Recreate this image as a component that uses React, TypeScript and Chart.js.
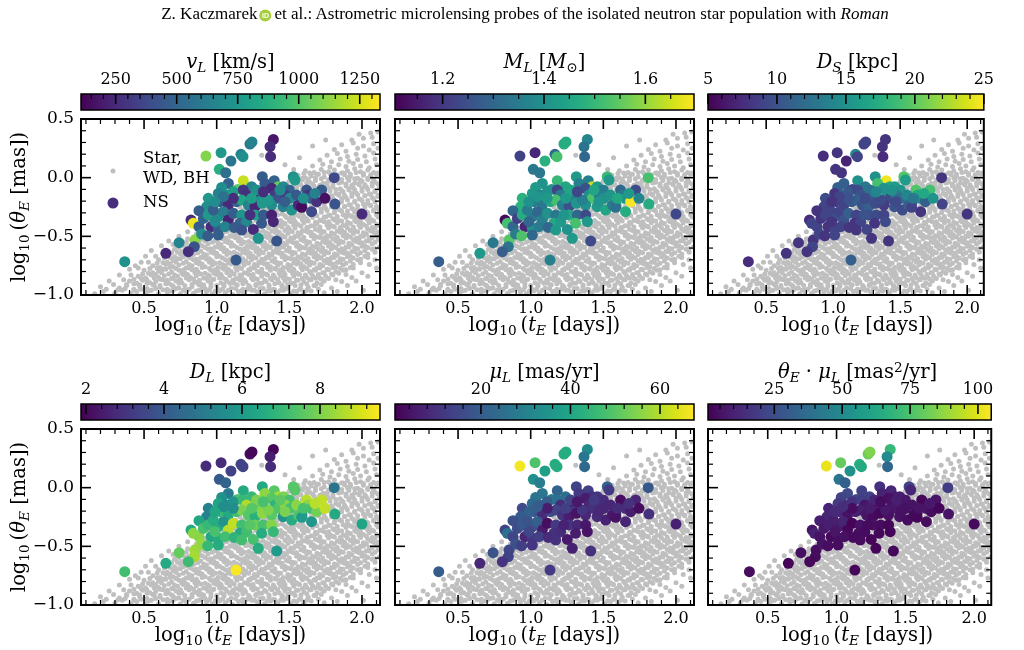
import React, { useEffect, useRef } from "react";
import { Chart, registerables } from "chart.js";

Chart.register(...registerables);

// ---- Isolated neutron-star lenses ----
// log10(tE [days])
const nsLogTE = [
  1.390, 1.367, 1.371, 1.229, 1.243, 1.167, 1.181, 1.030, 0.926, 1.098,
  1.018, 1.062, 1.183, 1.080, 1.314, 1.396, 1.424, 1.527, 1.539, 1.809,
  1.034, 1.144, 1.240, 1.332, 1.378, 1.458, 1.500, 1.619, 1.630, 1.722,
  0.942, 1.011, 1.068, 1.114, 1.183, 1.206, 1.282, 1.309, 1.401, 1.424,
  1.470, 1.504, 1.585, 1.653, 1.688, 1.745, 1.814, 0.931, 0.878, 1.023,
  1.080, 1.137, 1.172, 1.218, 1.264, 1.314, 1.378, 1.458, 1.516, 1.562,
  1.585, 1.653, 0.823, 0.839, 0.878, 0.908, 0.942, 1.011, 1.046, 1.080,
  1.114, 1.172, 1.160, 1.206, 1.264, 1.321, 1.309, 1.378, 1.390, 0.961,
  1.011, 1.057, 1.121, 1.172, 1.252, 0.851, 0.896, 0.938, 1.011, 1.286,
  1.413, 0.741, 0.846, 0.805, 1.133, 0.650, 0.367, 2.000, 0.977, 0.988,
  1.229, 1.355, 1.436, 1.550, 1.596, 1.676, 1.114, 1.275, 1.046, 1.321,
  0.988, 1.240, 1.470,
];
// log10(thetaE [mas])
const nsLogThetaE = [
  0.326, 0.264, 0.179, 0.287, 0.304, 0.199, 0.179, 0.213, 0.184, 0.142,
  0.071, 0.042, -0.026, -0.049, 0.008, -0.026, -0.077, 0.008, -0.020, 0.000,
  -0.083, -0.100, -0.077, -0.049, -0.091, -0.077, -0.105, -0.105, -0.148, -0.105,
  -0.176, -0.134, -0.148, -0.120, -0.105, -0.148, -0.157, -0.191, -0.148, -0.176,
  -0.148, -0.176, -0.219, -0.176, -0.205, -0.176, -0.225, -0.247, -0.281, -0.205,
  -0.233, -0.205, -0.191, -0.233, -0.247, -0.219, -0.233, -0.247, -0.276, -0.233,
  -0.253, -0.290, -0.361, -0.389, -0.418, -0.347, -0.318, -0.333, -0.290, -0.361,
  -0.304, -0.318, -0.389, -0.375, -0.318, -0.318, -0.389, -0.318, -0.375, -0.418,
  -0.432, -0.418, -0.424, -0.446, -0.441, -0.532, -0.480, -0.497, -0.489, -0.517,
  -0.540, -0.554, -0.588, -0.631, -0.702, -0.645, -0.716, -0.310, -0.276, -0.375,
  -0.318, -0.191, -0.105, -0.148, -0.176, -0.134, -0.176, -0.105, -0.162, -0.120,
  -0.205, -0.176, -0.205,
];
// lens velocity v_L [km/s]
const nsVL = [
  180, 260, 260, 600, 650, 640, 700, 760, 1100, 580,
  880, 560, 1230, 480, 470, 480, 1050, 720, 760, 380,
  700, 1020, 660, 450, 240, 680, 480, 430, 300, 450,
  760, 640, 700, 780, 300, 270, 150, 720, 320, 420,
  330, 690, 780, 470, 280, 160, 430, 700, 470, 430,
  250, 480, 820, 650, 240, 760, 700, 640, 730, 250,
  140, 380, 260, 1300, 460, 480, 760, 690, 620, 230,
  470, 740, 480, 680, 800, 460, 450, 220, 240, 260,
  470, 650, 460, 420, 250, 1120, 700, 460, 470, 740,
  430, 660, 420, 270, 450, 250, 720, 250, 470, 680,
  270, 760, 680, 450, 700, 640, 260, 720, 560, 260,
  700, 780, 470,
];
// lens mass M_L [Msun]
const nsML = [
  1.37, 1.33, 1.30, 1.47, 1.47, 1.30, 1.52, 1.17, 1.22, 1.48,
  1.34, 1.34, 1.50, 1.40, 1.42, 1.36, 1.64, 1.50, 1.42, 1.52,
  1.42, 1.41, 1.45, 1.36, 1.25, 1.42, 1.35, 1.30, 1.34, 1.24,
  1.48, 1.42, 1.36, 1.40, 1.23, 1.35, 1.42, 1.36, 1.40, 1.53,
  1.35, 1.40, 1.45, 1.41, 1.69, 1.37, 1.47, 1.48, 1.30, 1.35,
  1.34, 1.46, 1.52, 1.36, 1.25, 1.41, 1.40, 1.42, 1.45, 1.35,
  1.32, 1.47, 1.12, 1.52, 1.30, 1.22, 1.47, 1.35, 1.30, 1.36,
  1.40, 1.34, 1.46, 1.42, 1.46, 1.30, 1.52, 1.24, 1.42, 1.17,
  1.40, 1.35, 1.30, 1.42, 1.40, 1.54, 1.35, 1.53, 1.30, 1.42,
  1.24, 1.34, 1.33, 1.28, 1.36, 1.42, 1.28, 1.23, 1.35, 1.30,
  1.41, 1.36, 1.45, 1.41, 1.46, 1.42, 1.42, 1.45, 1.41, 1.23,
  1.40, 1.42, 1.41,
];
// source distance D_S [kpc]
const nsDS = [
  8, 8, 7.5, 9, 9, 14, 9, 8, 7.5, 7,
  8, 8, 15, 11, 15, 24.5, 17, 19.5, 16, 8,
  11, 9, 13, 19, 15, 16, 15, 19.5, 17, 19,
  9.5, 8, 11, 10.5, 9.5, 10, 13, 11, 15, 9.5,
  13, 12, 9, 14.5, 11, 15, 9, 9, 8, 9,
  9, 10.5, 11, 10, 11, 9.5, 8.5, 10, 9.5, 11,
  9, 8, 7.5, 9, 9, 8, 9, 10, 9, 10,
  11, 9, 8, 9, 10, 9.5, 8, 9, 9.5, 8,
  9, 9, 8, 8, 9, 8, 9, 8, 9, 8,
  8, 8, 9, 8, 11, 8, 7.5, 8, 9, 8,
  10, 9.5, 15, 14, 13, 17, 10, 12.5, 9, 14,
  8, 9.5, 9.5,
];
// lens distance D_L [kpc]
const nsDL = [
  1.95, 2.5, 2.8, 2.1, 2.0, 3.3, 3.4, 2.8, 2.8, 3.3,
  4.0, 4.3, 6.5, 5.0, 6.5, 7.5, 8.5, 7.5, 7.5, 4.8,
  5.7, 7.3, 7.0, 8.2, 7.5, 8.0, 7.3, 8.7, 8.2, 8.8,
  5.2, 6.3, 5.5, 5.8, 7.0, 8.6, 7.3, 8.0, 6.8, 7.4,
  8.2, 7.3, 5.8, 7.2, 7.9, 8.8, 6.5, 5.2, 6.4, 7.0,
  6.5, 7.2, 8.0, 7.5, 6.7, 8.2, 7.5, 5.8, 6.6, 7.4,
  6.0, 5.9, 6.5, 8.2, 8.2, 7.3, 7.0, 6.6, 5.8, 8.7,
  8.8, 7.2, 6.5, 7.2, 7.8, 7.3, 6.6, 8.1, 7.0, 6.4,
  6.6, 7.2, 6.8, 7.2, 7.3, 8.4, 8.3, 7.0, 6.6, 6.6,
  6.0, 7.7, 8.5, 7.1, 9.5, 6.5, 7.2, 6.3, 6.6, 7.3,
  7.5, 8.0, 7.6, 8.2, 7.3, 8.7, 5.6, 8.0, 5.6, 7.3,
  6.4, 7.5, 8.0,
];
// lens proper motion mu_L [mas/yr]
const nsMuL = [
  33, 27, 23, 42, 42, 42, 42, 49, 66.5, 38,
  34, 29, 22, 27, 14, 13, 10, 21, 12, 19,
  26, 28, 25, 12, 6, 11, 9, 3, 3, 8,
  16, 24, 22, 20, 25, 9, 2.5, 11, 8, 10,
  9, 8, 7, 9, 6, 3, 10, 20, 17, 19,
  9, 16, 14, 11, 6, 4, 8, 9, 7, 5,
  4, 8, 14, 25, 15, 16, 19, 17, 21, 6,
  3, 12, 10, 9, 11, 8, 6, 5, 4, 8,
  12, 13, 9, 10, 5, 15, 17, 13, 11, 7,
  10, 18, 14, 11, 12, 8, 20, 7, 18, 15,
  7, 11, 12, 8, 9, 10, 6, 14, 20, 5,
  21, 13, 8,
];
// thetaE * mu_L [mas^2/yr]
const nsThetaMu = [
  69.9, 49.6, 34.7, 81.3, 84.6, 66.4, 63.4, 80.0, 101.6, 52.7,
  40.1, 32.0, 20.7, 24.1, 14.3, 12.2, 8.4, 21.4, 11.5, 19.0,
  21.5, 22.2, 21.0, 10.7, 4.9, 9.2, 7.1, 2.4, 2.1, 6.3,
  10.7, 17.6, 15.6, 15.2, 19.6, 6.4, 1.7, 7.1, 5.7, 6.7,
  6.4, 5.3, 4.2, 6.0, 3.7, 2.0, 6.0, 11.3, 8.9, 11.9,
  5.3, 10.0, 9.0, 6.4, 3.4, 2.4, 4.7, 5.1, 3.7, 2.9,
  2.2, 4.1, 6.1, 10.2, 5.7, 7.2, 9.1, 7.9, 10.8, 2.6,
  1.5, 5.8, 4.1, 3.8, 5.3, 3.8, 2.4, 2.4, 1.7, 3.1,
  4.4, 5.0, 3.4, 3.6, 1.8, 4.4, 5.6, 4.1, 3.6, 2.1,
  2.9, 5.0, 3.6, 2.6, 2.4, 1.8, 3.8, 3.4, 9.5, 6.3,
  3.4, 7.1, 9.4, 5.7, 6.0, 7.4, 4.0, 11.0, 13.8, 3.8,
  13.1, 8.7, 5.0,
];

// ---- Stars, white dwarfs and black holes: [log10 tE, log10 thetaE] ----
const otherLenses: [number, number][] = [
  [0.22,-0.97],[0.30,-0.985],[0.35,-0.96],[0.41,-0.99],[0.45,-0.97],[0.51,-0.98],[0.55,-0.96],[0.60,-0.99],[0.66,-0.975],[0.70,-0.96],[0.75,-0.99],[0.79,-0.97],[0.84,-0.985],[0.88,-0.96],[0.93,-0.975],[0.97,-0.99],[1.02,-0.965],[1.06,-0.98],[1.11,-0.995],[1.15,-0.97],[1.19,-0.985],[1.24,-0.96],[1.28,-0.975],[1.33,-0.99],[1.37,-0.965],[1.42,-0.98],[1.46,-0.96],[1.51,-0.99],[1.55,-0.97],[1.60,-0.985],[1.65,-0.965],[1.74,-0.98],
  [0.32,-0.955],[0.37,-0.945],[0.43,-0.96],[0.48,-0.95],[0.53,-0.965],[0.58,-0.945],[0.63,-0.955],[0.68,-0.965],[0.72,-0.945],[0.77,-0.96],[0.81,-0.95],[0.86,-0.965],[0.90,-0.945],[0.95,-0.955],[0.99,-0.965],[1.04,-0.95],[1.08,-0.96],[1.13,-0.945],[1.17,-0.965],[1.21,-0.95],[1.26,-0.96],[1.30,-0.945],[1.35,-0.965],[1.39,-0.95],[1.44,-0.96],[1.48,-0.945],[1.53,-0.965],[1.57,-0.95],[1.62,-0.96],[1.70,-0.95],
  [0.33,-0.94],[0.38,-0.92],[0.43,-0.95],[0.47,-0.93],[0.52,-0.945],[0.57,-0.92],[0.61,-0.935],[0.66,-0.95],[0.70,-0.925],[0.74,-0.94],[0.79,-0.955],[0.83,-0.93],[0.88,-0.915],[0.92,-0.945],[0.96,-0.93],[1.01,-0.95],[1.05,-0.925],[1.10,-0.94],[1.14,-0.915],[1.18,-0.95],[1.23,-0.935],[1.27,-0.92],[1.32,-0.945],[1.36,-0.93],[1.40,-0.955],[1.45,-0.925],[1.49,-0.94],[1.54,-0.92],[1.58,-0.95],[1.63,-0.935],[1.68,-0.92],[1.79,-0.94],
  [0.38,-0.91],[0.43,-0.905],[0.47,-0.915],[0.52,-0.90],[0.56,-0.91],[0.61,-0.92],[0.65,-0.905],[0.69,-0.915],[0.74,-0.90],[0.78,-0.92],[0.83,-0.91],[0.87,-0.90],[0.91,-0.915],[0.96,-0.905],[1.00,-0.92],[1.05,-0.91],[1.09,-0.90],[1.14,-0.915],[1.18,-0.905],[1.22,-0.92],[1.27,-0.91],[1.31,-0.90],[1.36,-0.915],[1.40,-0.905],[1.45,-0.92],[1.49,-0.91],[1.53,-0.90],[1.58,-0.915],[1.62,-0.905],[1.67,-0.92],[1.72,-0.91],
  [0.40,-0.88],[0.45,-0.90],[0.49,-0.875],[0.54,-0.895],[0.58,-0.885],[0.63,-0.87],[0.67,-0.90],[0.72,-0.88],[0.76,-0.895],[0.81,-0.87],[0.85,-0.89],[0.89,-0.905],[0.94,-0.88],[0.98,-0.865],[1.03,-0.895],[1.07,-0.88],[1.12,-0.90],[1.16,-0.875],[1.20,-0.89],[1.25,-0.87],[1.29,-0.90],[1.34,-0.885],[1.38,-0.87],[1.43,-0.895],[1.47,-0.88],[1.51,-0.90],[1.56,-0.875],[1.60,-0.89],[1.65,-0.87],[1.69,-0.895],[1.74,-0.88],[1.86,-0.885],
  [0.43,-0.865],[0.48,-0.86],[0.52,-0.87],[0.57,-0.855],[0.61,-0.865],[0.66,-0.875],[0.70,-0.86],[0.75,-0.87],[0.79,-0.855],[0.84,-0.865],[0.88,-0.875],[0.93,-0.86],[0.97,-0.87],[1.02,-0.855],[1.06,-0.865],[1.11,-0.875],[1.15,-0.86],[1.19,-0.87],[1.24,-0.855],[1.28,-0.865],[1.33,-0.875],[1.37,-0.86],[1.42,-0.87],[1.46,-0.855],[1.50,-0.865],[1.55,-0.875],[1.59,-0.86],[1.64,-0.87],[1.68,-0.855],[1.72,-0.865],[1.77,-0.86],[1.82,-0.87],
  [0.46,-0.84],[0.51,-0.855],[0.55,-0.83],[0.60,-0.85],[0.64,-0.835],[0.69,-0.86],[0.73,-0.84],[0.77,-0.825],[0.82,-0.85],[0.86,-0.835],[0.91,-0.855],[0.95,-0.84],[1.00,-0.825],[1.04,-0.85],[1.09,-0.835],[1.13,-0.86],[1.17,-0.84],[1.22,-0.825],[1.26,-0.855],[1.31,-0.84],[1.35,-0.83],[1.40,-0.85],[1.44,-0.835],[1.48,-0.86],[1.53,-0.84],[1.57,-0.825],[1.62,-0.85],[1.66,-0.835],[1.71,-0.855],[1.75,-0.84],[1.80,-0.83],[1.93,-0.85],
  [0.49,-0.82],[0.53,-0.815],[0.58,-0.825],[0.62,-0.81],[0.67,-0.82],[0.71,-0.83],[0.76,-0.815],[0.80,-0.825],[0.85,-0.81],[0.89,-0.82],[0.94,-0.83],[0.98,-0.815],[1.03,-0.825],[1.07,-0.81],[1.12,-0.82],[1.16,-0.83],[1.21,-0.815],[1.25,-0.825],[1.30,-0.81],[1.34,-0.82],[1.39,-0.83],[1.43,-0.815],[1.47,-0.825],[1.52,-0.81],[1.56,-0.82],[1.61,-0.83],[1.65,-0.815],[1.70,-0.825],[1.74,-0.81],[1.79,-0.82],[1.84,-0.815],[1.89,-0.825],
  [0.50,-0.79],[0.56,-0.81],[0.60,-0.795],[0.65,-0.78],[0.69,-0.805],[0.74,-0.79],[0.78,-0.81],[0.83,-0.785],[0.87,-0.80],[0.92,-0.815],[0.96,-0.79],[1.01,-0.805],[1.05,-0.78],[1.10,-0.80],[1.14,-0.79],[1.19,-0.81],[1.23,-0.785],[1.28,-0.80],[1.32,-0.815],[1.37,-0.79],[1.41,-0.78],[1.46,-0.805],[1.50,-0.79],[1.55,-0.81],[1.59,-0.785],[1.64,-0.80],[1.68,-0.79],[1.73,-0.81],[1.77,-0.785],[1.82,-0.80],[1.87,-0.79],[2.00,-0.81],
  [0.54,-0.775],[0.59,-0.77],[0.63,-0.78],[0.68,-0.765],[0.72,-0.775],[0.77,-0.785],[0.81,-0.77],[0.86,-0.78],[0.90,-0.765],[0.95,-0.775],[0.99,-0.785],[1.04,-0.77],[1.08,-0.78],[1.13,-0.765],[1.17,-0.775],[1.22,-0.785],[1.26,-0.77],[1.31,-0.78],[1.35,-0.765],[1.40,-0.775],[1.44,-0.785],[1.49,-0.77],[1.53,-0.78],[1.58,-0.765],[1.62,-0.775],[1.67,-0.785],[1.71,-0.77],[1.76,-0.78],[1.80,-0.765],[1.85,-0.775],[1.89,-0.785],[1.94,-0.77],
  [0.56,-0.75],[0.61,-0.765],[0.65,-0.74],[0.70,-0.76],[0.74,-0.745],[0.79,-0.77],[0.83,-0.75],[0.88,-0.735],[0.92,-0.76],[0.97,-0.745],[1.01,-0.765],[1.06,-0.75],[1.10,-0.735],[1.15,-0.76],[1.19,-0.745],[1.24,-0.77],[1.28,-0.75],[1.33,-0.735],[1.37,-0.76],[1.42,-0.745],[1.46,-0.765],[1.51,-0.75],[1.55,-0.735],[1.60,-0.76],[1.64,-0.745],[1.69,-0.77],[1.73,-0.75],[1.78,-0.735],[1.82,-0.76],[1.87,-0.745],[1.92,-0.765],[2.05,-0.74],
  [0.59,-0.73],[0.63,-0.725],[0.68,-0.735],[0.72,-0.72],[0.77,-0.73],[0.81,-0.74],[0.86,-0.725],[0.90,-0.735],[0.95,-0.72],[0.99,-0.73],[1.04,-0.74],[1.08,-0.725],[1.13,-0.735],[1.17,-0.72],[1.22,-0.73],[1.26,-0.74],[1.31,-0.725],[1.35,-0.735],[1.40,-0.72],[1.44,-0.73],[1.49,-0.74],[1.53,-0.725],[1.58,-0.735],[1.62,-0.72],[1.67,-0.73],[1.71,-0.74],[1.76,-0.725],[1.80,-0.735],[1.85,-0.72],[1.89,-0.73],[1.94,-0.74],[1.99,-0.725],
  [0.60,-0.70],[0.66,-0.72],[0.70,-0.705],[0.75,-0.69],[0.79,-0.715],[0.84,-0.70],[0.88,-0.72],[0.93,-0.695],[0.97,-0.71],[1.02,-0.725],[1.06,-0.70],[1.11,-0.715],[1.15,-0.69],[1.20,-0.71],[1.24,-0.70],[1.29,-0.72],[1.33,-0.695],[1.38,-0.71],[1.42,-0.725],[1.47,-0.70],[1.51,-0.69],[1.56,-0.715],[1.60,-0.70],[1.65,-0.72],[1.69,-0.695],[1.74,-0.71],[1.78,-0.70],[1.83,-0.72],[1.87,-0.695],[1.92,-0.71],[1.97,-0.70],[2.09,-0.70],
  [0.64,-0.685],[0.68,-0.68],[0.73,-0.69],[0.77,-0.675],[0.82,-0.685],[0.86,-0.695],[0.91,-0.68],[0.95,-0.69],[1.00,-0.675],[1.04,-0.685],[1.09,-0.695],[1.13,-0.68],[1.18,-0.69],[1.22,-0.675],[1.27,-0.685],[1.31,-0.695],[1.36,-0.68],[1.40,-0.69],[1.45,-0.675],[1.49,-0.685],[1.54,-0.695],[1.58,-0.68],[1.63,-0.69],[1.67,-0.675],[1.72,-0.685],[1.76,-0.695],[1.81,-0.68],[1.85,-0.69],[1.90,-0.675],[1.94,-0.685],[1.99,-0.695],[2.04,-0.68],
  [0.66,-0.66],[0.71,-0.675],[0.75,-0.65],[0.80,-0.67],[0.84,-0.655],[0.89,-0.68],[0.93,-0.66],[0.98,-0.645],[1.02,-0.67],[1.07,-0.655],[1.11,-0.675],[1.16,-0.66],[1.20,-0.645],[1.25,-0.67],[1.29,-0.655],[1.34,-0.68],[1.38,-0.66],[1.43,-0.645],[1.47,-0.67],[1.52,-0.655],[1.56,-0.675],[1.61,-0.66],[1.65,-0.645],[1.70,-0.67],[1.74,-0.655],[1.79,-0.68],[1.83,-0.66],[1.88,-0.645],[1.92,-0.67],[1.97,-0.655],[2.02,-0.67],
  [0.69,-0.64],[0.73,-0.635],[0.78,-0.645],[0.82,-0.63],[0.87,-0.64],[0.91,-0.65],[0.96,-0.635],[1.00,-0.645],[1.05,-0.63],[1.09,-0.64],[1.14,-0.65],[1.18,-0.635],[1.23,-0.645],[1.27,-0.63],[1.32,-0.64],[1.36,-0.65],[1.41,-0.635],[1.45,-0.645],[1.50,-0.63],[1.54,-0.64],[1.59,-0.65],[1.63,-0.635],[1.68,-0.645],[1.72,-0.63],[1.77,-0.64],[1.81,-0.65],[1.86,-0.635],[1.90,-0.645],[1.95,-0.63],[1.99,-0.64],[2.04,-0.65],[2.09,-0.635],
  [0.71,-0.61],[0.76,-0.63],[0.80,-0.615],[0.85,-0.60],[0.89,-0.625],[0.94,-0.61],[0.98,-0.63],[1.03,-0.605],[1.07,-0.62],[1.12,-0.635],[1.16,-0.61],[1.21,-0.625],[1.25,-0.60],[1.30,-0.62],[1.34,-0.61],[1.39,-0.63],[1.43,-0.605],[1.48,-0.62],[1.52,-0.635],[1.57,-0.61],[1.61,-0.60],[1.66,-0.625],[1.70,-0.61],[1.75,-0.63],[1.79,-0.605],[1.84,-0.62],[1.88,-0.61],[1.93,-0.63],[1.97,-0.605],[2.02,-0.62],[2.07,-0.61],[2.12,-0.59],
  [0.74,-0.595],[0.78,-0.59],[0.83,-0.60],[0.87,-0.585],[0.92,-0.595],[0.96,-0.605],[1.01,-0.59],[1.05,-0.60],[1.10,-0.585],[1.14,-0.595],[1.19,-0.605],[1.23,-0.59],[1.28,-0.60],[1.32,-0.585],[1.37,-0.595],[1.41,-0.605],[1.46,-0.59],[1.50,-0.60],[1.55,-0.585],[1.59,-0.595],[1.64,-0.605],[1.68,-0.59],[1.73,-0.60],[1.77,-0.585],[1.82,-0.595],[1.86,-0.605],[1.91,-0.59],[1.95,-0.60],[2.00,-0.585],[2.04,-0.595],[2.09,-0.605],
  [0.76,-0.57],[0.81,-0.585],[0.85,-0.56],[0.90,-0.58],[0.94,-0.565],[0.99,-0.59],[1.03,-0.57],[1.08,-0.555],[1.12,-0.58],[1.17,-0.565],[1.21,-0.585],[1.26,-0.57],[1.30,-0.555],[1.35,-0.58],[1.39,-0.565],[1.44,-0.59],[1.48,-0.57],[1.53,-0.555],[1.57,-0.58],[1.62,-0.565],[1.66,-0.585],[1.71,-0.57],[1.75,-0.555],[1.80,-0.58],[1.84,-0.565],[1.89,-0.59],[1.93,-0.57],[1.98,-0.555],[2.02,-0.58],[2.07,-0.565],
  [0.79,-0.55],[0.83,-0.545],[0.88,-0.555],[0.92,-0.54],[0.97,-0.55],[1.01,-0.56],[1.06,-0.545],[1.10,-0.555],[1.15,-0.54],[1.19,-0.55],[1.24,-0.56],[1.28,-0.545],[1.33,-0.555],[1.37,-0.54],[1.42,-0.55],[1.46,-0.56],[1.51,-0.545],[1.55,-0.555],[1.60,-0.54],[1.64,-0.55],[1.69,-0.56],[1.73,-0.545],[1.78,-0.555],[1.82,-0.54],[1.87,-0.55],[1.91,-0.56],[1.96,-0.545],[2.00,-0.555],[2.05,-0.54],[2.09,-0.55],
  [0.80,-0.52],[0.86,-0.54],[0.90,-0.525],[0.95,-0.51],[0.99,-0.535],[1.04,-0.52],[1.08,-0.54],[1.13,-0.515],[1.17,-0.53],[1.22,-0.545],[1.26,-0.52],[1.31,-0.535],[1.35,-0.51],[1.40,-0.53],[1.44,-0.52],[1.49,-0.54],[1.53,-0.515],[1.58,-0.53],[1.62,-0.545],[1.67,-0.52],[1.71,-0.51],[1.76,-0.535],[1.80,-0.52],[1.85,-0.54],[1.89,-0.515],[1.94,-0.53],[1.98,-0.52],[2.03,-0.54],[2.07,-0.515],[2.11,-0.53],
  [0.84,-0.505],[0.88,-0.50],[0.93,-0.51],[0.97,-0.495],[1.02,-0.505],[1.06,-0.515],[1.11,-0.50],[1.15,-0.51],[1.20,-0.495],[1.24,-0.505],[1.29,-0.515],[1.33,-0.50],[1.38,-0.51],[1.42,-0.495],[1.47,-0.505],[1.51,-0.515],[1.56,-0.50],[1.60,-0.51],[1.65,-0.495],[1.69,-0.505],[1.74,-0.515],[1.78,-0.50],[1.83,-0.51],[1.87,-0.495],[1.92,-0.505],[1.96,-0.515],[2.01,-0.50],[2.05,-0.51],[2.10,-0.495],
  [0.86,-0.48],[0.91,-0.495],[0.95,-0.47],[1.00,-0.49],[1.04,-0.475],[1.09,-0.50],[1.13,-0.48],[1.18,-0.465],[1.22,-0.49],[1.27,-0.475],[1.31,-0.495],[1.36,-0.48],[1.40,-0.465],[1.45,-0.49],[1.49,-0.475],[1.54,-0.50],[1.58,-0.48],[1.63,-0.465],[1.67,-0.49],[1.72,-0.475],[1.76,-0.495],[1.81,-0.48],[1.85,-0.465],[1.90,-0.49],[1.94,-0.475],[1.99,-0.50],[2.03,-0.48],[2.08,-0.465],[2.12,-0.49],
  [0.89,-0.46],[0.93,-0.455],[0.98,-0.465],[1.02,-0.45],[1.07,-0.46],[1.11,-0.47],[1.16,-0.455],[1.20,-0.465],[1.25,-0.45],[1.29,-0.46],[1.34,-0.47],[1.38,-0.455],[1.43,-0.465],[1.47,-0.45],[1.52,-0.46],[1.56,-0.47],[1.61,-0.455],[1.65,-0.465],[1.70,-0.45],[1.74,-0.46],[1.79,-0.47],[1.83,-0.455],[1.88,-0.465],[1.92,-0.45],[1.97,-0.46],[2.01,-0.47],[2.06,-0.455],[2.11,-0.465],
  [0.91,-0.43],[0.96,-0.45],[1.00,-0.435],[1.05,-0.42],[1.09,-0.445],[1.14,-0.43],[1.18,-0.45],[1.23,-0.425],[1.27,-0.44],[1.32,-0.455],[1.36,-0.43],[1.41,-0.445],[1.45,-0.42],[1.50,-0.44],[1.54,-0.43],[1.59,-0.45],[1.63,-0.425],[1.68,-0.44],[1.72,-0.455],[1.77,-0.43],[1.81,-0.42],[1.86,-0.445],[1.90,-0.43],[1.95,-0.45],[1.99,-0.425],[2.04,-0.44],[2.09,-0.43],
  [0.95,-0.415],[0.99,-0.41],[1.04,-0.42],[1.08,-0.405],[1.13,-0.415],[1.17,-0.425],[1.22,-0.41],[1.26,-0.42],[1.31,-0.405],[1.35,-0.415],[1.40,-0.425],[1.44,-0.41],[1.49,-0.42],[1.53,-0.405],[1.58,-0.415],[1.62,-0.425],[1.67,-0.41],[1.71,-0.42],[1.76,-0.405],[1.80,-0.415],[1.85,-0.425],[1.89,-0.41],[1.94,-0.42],[1.98,-0.405],[2.03,-0.415],[2.07,-0.425],[2.12,-0.41],
  [0.97,-0.39],[1.02,-0.405],[1.06,-0.38],[1.11,-0.40],[1.15,-0.385],[1.20,-0.41],[1.24,-0.39],[1.29,-0.375],[1.33,-0.40],[1.38,-0.385],[1.42,-0.405],[1.47,-0.39],[1.51,-0.375],[1.56,-0.40],[1.60,-0.385],[1.65,-0.41],[1.69,-0.39],[1.74,-0.375],[1.78,-0.40],[1.83,-0.385],[1.87,-0.405],[1.92,-0.39],[1.96,-0.375],[2.01,-0.40],[2.05,-0.385],[2.10,-0.40],
  [1.00,-0.37],[1.05,-0.365],[1.09,-0.375],[1.14,-0.36],[1.18,-0.37],[1.23,-0.38],[1.27,-0.365],[1.32,-0.375],[1.36,-0.36],[1.41,-0.37],[1.45,-0.38],[1.50,-0.365],[1.54,-0.375],[1.59,-0.36],[1.63,-0.37],[1.68,-0.38],[1.72,-0.365],[1.77,-0.375],[1.81,-0.36],[1.86,-0.37],[1.90,-0.38],[1.95,-0.365],[1.99,-0.375],[2.04,-0.36],[2.08,-0.37],
  [1.03,-0.34],[1.08,-0.36],[1.12,-0.345],[1.17,-0.33],[1.21,-0.355],[1.26,-0.34],[1.30,-0.36],[1.35,-0.335],[1.39,-0.35],[1.44,-0.365],[1.48,-0.34],[1.53,-0.355],[1.57,-0.33],[1.62,-0.35],[1.66,-0.34],[1.71,-0.36],[1.75,-0.335],[1.80,-0.35],[1.84,-0.365],[1.89,-0.34],[1.93,-0.33],[1.98,-0.355],[2.02,-0.34],[2.07,-0.36],[2.11,-0.335],
  [1.06,-0.325],[1.11,-0.32],[1.15,-0.33],[1.20,-0.315],[1.24,-0.325],[1.29,-0.335],[1.33,-0.32],[1.38,-0.33],[1.42,-0.315],[1.47,-0.325],[1.51,-0.335],[1.56,-0.32],[1.60,-0.33],[1.65,-0.315],[1.69,-0.325],[1.74,-0.335],[1.78,-0.32],[1.83,-0.33],[1.87,-0.315],[1.92,-0.325],[1.96,-0.335],[2.01,-0.32],[2.05,-0.33],[2.10,-0.315],
  [1.09,-0.30],[1.14,-0.315],[1.18,-0.29],[1.23,-0.31],[1.27,-0.295],[1.32,-0.32],[1.36,-0.30],[1.41,-0.285],[1.45,-0.31],[1.50,-0.295],[1.54,-0.315],[1.59,-0.30],[1.63,-0.285],[1.68,-0.31],[1.72,-0.295],[1.77,-0.32],[1.81,-0.30],[1.86,-0.285],[1.90,-0.31],[1.95,-0.295],[1.99,-0.315],[2.04,-0.30],[2.08,-0.285],
  [1.13,-0.28],[1.18,-0.275],[1.22,-0.285],[1.27,-0.27],[1.31,-0.28],[1.36,-0.29],[1.40,-0.275],[1.45,-0.285],[1.49,-0.27],[1.54,-0.28],[1.58,-0.29],[1.63,-0.275],[1.67,-0.285],[1.72,-0.27],[1.76,-0.28],[1.81,-0.29],[1.85,-0.275],[1.90,-0.285],[1.94,-0.27],[1.99,-0.28],[2.03,-0.29],[2.08,-0.275],[2.12,-0.285],
  [1.16,-0.25],[1.21,-0.27],[1.25,-0.255],[1.30,-0.24],[1.34,-0.265],[1.39,-0.25],[1.43,-0.27],[1.48,-0.245],[1.52,-0.26],[1.57,-0.275],[1.61,-0.25],[1.66,-0.265],[1.70,-0.24],[1.75,-0.26],[1.79,-0.25],[1.84,-0.27],[1.88,-0.245],[1.93,-0.26],[1.97,-0.275],[2.02,-0.25],[2.06,-0.24],[2.11,-0.265],
  [1.20,-0.235],[1.25,-0.23],[1.29,-0.24],[1.34,-0.225],[1.38,-0.235],[1.43,-0.245],[1.47,-0.23],[1.52,-0.24],[1.56,-0.225],[1.61,-0.235],[1.65,-0.245],[1.70,-0.23],[1.74,-0.24],[1.79,-0.225],[1.83,-0.235],[1.88,-0.245],[1.92,-0.23],[1.97,-0.24],[2.01,-0.225],[2.06,-0.235],[2.10,-0.245],
  [1.23,-0.21],[1.28,-0.225],[1.32,-0.20],[1.37,-0.22],[1.41,-0.205],[1.46,-0.23],[1.50,-0.21],[1.55,-0.195],[1.59,-0.22],[1.64,-0.205],[1.68,-0.225],[1.73,-0.21],[1.77,-0.195],[1.82,-0.22],[1.86,-0.205],[1.91,-0.23],[1.95,-0.21],[2.00,-0.195],[2.04,-0.22],[2.09,-0.205],
  [1.27,-0.19],[1.32,-0.185],[1.36,-0.195],[1.41,-0.18],[1.45,-0.19],[1.50,-0.20],[1.54,-0.185],[1.59,-0.195],[1.63,-0.18],[1.68,-0.19],[1.72,-0.20],[1.77,-0.185],[1.81,-0.195],[1.86,-0.18],[1.90,-0.19],[1.95,-0.20],[1.99,-0.185],[2.04,-0.195],[2.08,-0.18],
  [1.30,-0.16],[1.35,-0.18],[1.39,-0.165],[1.44,-0.15],[1.48,-0.175],[1.53,-0.16],[1.57,-0.18],[1.62,-0.155],[1.66,-0.17],[1.71,-0.185],[1.75,-0.16],[1.80,-0.175],[1.84,-0.15],[1.89,-0.17],[1.93,-0.16],[1.98,-0.18],[2.02,-0.155],[2.07,-0.17],[2.11,-0.16],
  [1.34,-0.145],[1.39,-0.14],[1.43,-0.15],[1.48,-0.135],[1.52,-0.145],[1.57,-0.155],[1.61,-0.14],[1.66,-0.15],[1.70,-0.135],[1.75,-0.145],[1.79,-0.155],[1.84,-0.14],[1.88,-0.15],[1.93,-0.135],[1.97,-0.145],[2.02,-0.155],[2.06,-0.14],[2.11,-0.15],
  [1.37,-0.12],[1.42,-0.135],[1.46,-0.11],[1.51,-0.13],[1.55,-0.115],[1.60,-0.14],[1.64,-0.12],[1.69,-0.105],[1.73,-0.13],[1.78,-0.115],[1.82,-0.135],[1.87,-0.12],[1.91,-0.105],[1.96,-0.13],[2.00,-0.115],[2.05,-0.14],[2.09,-0.12],
  [1.41,-0.10],[1.46,-0.095],[1.50,-0.105],[1.55,-0.09],[1.59,-0.10],[1.64,-0.11],[1.68,-0.095],[1.73,-0.105],[1.77,-0.09],[1.82,-0.10],[1.86,-0.11],[1.91,-0.095],[1.95,-0.105],[2.00,-0.09],[2.04,-0.10],[2.09,-0.11],
  [1.44,-0.07],[1.49,-0.09],[1.53,-0.075],[1.58,-0.06],[1.62,-0.085],[1.67,-0.07],[1.71,-0.09],[1.76,-0.065],[1.80,-0.08],[1.85,-0.095],[1.89,-0.07],[1.94,-0.085],[1.98,-0.06],[2.03,-0.08],[2.07,-0.07],[2.12,-0.09],
  [1.48,-0.055],[1.53,-0.05],[1.57,-0.06],[1.62,-0.045],[1.66,-0.055],[1.71,-0.065],[1.75,-0.05],[1.80,-0.06],[1.84,-0.045],[1.89,-0.055],[1.93,-0.065],[1.98,-0.05],[2.02,-0.06],[2.07,-0.045],[2.11,-0.055],
  [1.50,-0.03],[1.55,-0.045],[1.59,-0.02],[1.64,-0.04],[1.68,-0.025],[1.73,-0.05],[1.77,-0.03],[1.82,-0.015],[1.86,-0.04],[1.91,-0.025],[1.95,-0.045],[2.00,-0.03],[2.04,-0.015],[2.09,-0.04],
  [1.54,-0.01],[1.59,-0.005],[1.63,-0.015],[1.68,0.00],[1.72,-0.01],[1.77,-0.02],[1.81,-0.005],[1.86,-0.015],[1.90,0.00],[1.95,-0.01],[1.99,-0.02],[2.04,-0.005],[2.08,-0.015],
  [1.56,0.02],[1.61,0.00],[1.65,0.015],[1.70,0.03],[1.74,0.005],[1.79,0.02],[1.83,0.00],[1.88,0.025],[1.92,0.01],[1.97,-0.005],[2.01,0.02],[2.06,0.01],[2.10,0.03],
  [1.60,0.035],[1.64,0.04],[1.69,0.03],[1.74,0.045],[1.78,0.035],[1.83,0.025],[1.87,0.04],[1.92,0.03],[1.96,0.045],[2.01,0.035],[2.06,0.025],[2.11,0.04],
  [1.61,0.06],[1.67,0.045],[1.72,0.07],[1.77,0.05],[1.81,0.065],[1.86,0.04],[1.90,0.06],[1.95,0.075],[1.99,0.05],[2.04,0.065],[2.08,0.045],
  [1.66,0.10],[1.73,0.115],[1.78,0.09],[1.84,0.11],[1.89,0.095],[1.94,0.12],[1.99,0.10],[2.05,0.085],[2.10,0.11],
  [1.71,0.15],[1.79,0.135],[1.85,0.16],[1.91,0.14],[1.97,0.155],[2.03,0.135],[2.09,0.16],
  [1.76,0.19],[1.83,0.205],[1.90,0.18],[1.96,0.20],[2.02,0.185],[2.08,0.21],
  [1.81,0.24],[1.89,0.225],[1.97,0.25],[2.05,0.235],[2.11,0.25],
  [1.86,0.28],[1.94,0.295],[2.01,0.27],[2.08,0.29],
  [1.93,0.32],[2.01,0.335],[2.07,0.345],
  [1.98,0.37],[2.06,0.38],[2.11,0.39],
  [0.16,-0.99],[0.24,-0.95],[0.29,-0.91],[0.36,-0.87],[0.41,-0.83],[0.46,-0.77],[0.53,-0.72],[0.58,-0.67],[0.64,-0.62],[0.70,-0.57],
  [0.55,-0.62],[0.62,-0.58],[0.48,-0.72],[0.40,-0.78],[0.33,-0.83],[0.26,-0.88],[0.74,-0.50],[0.80,-0.46],[0.88,-0.40],[0.95,-0.36],
  [0.51,-0.67],[0.44,-0.75],[0.67,-0.54],[0.20,-0.93],
  [1.31,0.19],[1.47,0.11],[1.57,0.17],[1.66,0.27],[1.53,0.07],[1.75,0.32],
  [1.83,-0.97],[1.90,-0.92],[1.96,-0.88],[2.04,-0.84],[2.10,-0.77],[2.01,-0.96],
  [1.23,-0.13],[1.12,-0.22],[0.99,-0.33],
];

// ---- axes ----
const xLimits = [0.066, 2.124];
const yLimits = [-1.0, 0.5];
const xTickValues = [0.5, 1.0, 1.5, 2.0];
const yTickValues = [-1.0, -0.5, 0.0, 0.5];

// colour-bar limits and ticks
const vLRange = [108, 1333];
const vLTicks = [250, 500, 750, 1000, 1250];
const mLRange = [1.106, 1.696];
const mLTicks = [1.2, 1.4, 1.6];
const dSRange = [5, 25];
const dSTicks = [5, 10, 15, 20, 25];
const dLRange = [1.87, 9.54];
const dLTicks = [2, 4, 6, 8];
const muLRange = [0.8, 67.6];
const muLTicks = [20, 40, 60];
const thetaMuRange = [0.58, 104.9];
const thetaMuTicks = [25, 50, 75, 100];

// ---- layout ----
const COL_LEFT = [81, 395, 708];
const COL_RIGHT = [380, 694, 1007];
const ROW_TOP = [119, 429];
const ROW_BOTTOM = [295, 605];
const Y_AXIS_W = 70;
const X_AXIS_H = 30;
const CB_AXIS_H = 50;
const GRAY = "#bfbfbf";
const SERIF = '"DejaVu Serif"';
const TITLE_SIZE = 19.5;

const VIRIDIS = [
  "#440154", "#48186a", "#472d7b", "#424086", "#3b528b", "#33638d",
  "#2c728e", "#26828e", "#21918c", "#1fa088", "#28ae80", "#3fbc73",
  "#5ec962", "#84d44b", "#addc30", "#d8e219", "#fde725",
];

function hexToRgb(h: string) {
  return [parseInt(h.slice(1, 3), 16), parseInt(h.slice(3, 5), 16), parseInt(h.slice(5, 7), 16)];
}

function viridis(t: number) {
  const c = Math.min(1, Math.max(0, t)) * (VIRIDIS.length - 1);
  const i = Math.min(VIRIDIS.length - 2, Math.floor(c));
  const f = c - i;
  const a = hexToRgb(VIRIDIS[i]);
  const b = hexToRgb(VIRIDIS[i + 1]);
  const m = a.map((v, k) => Math.round(v + (b[k] - v) * f));
  return `rgb(${m[0]},${m[1]},${m[2]})`;
}

const fmt = (v: number, d: number) => Number(v).toFixed(d).replace("-", "\u2212");

const Sub = ({ children }: { children: React.ReactNode }) => (
  <span style={{ fontSize: "0.7em", position: "relative", top: "0.3em" }}>{children}</span>
);
const Sup = ({ children }: { children: React.ReactNode }) => (
  <span style={{ fontSize: "0.7em", position: "relative", top: "-0.45em" }}>{children}</span>
);
const I = ({ children }: { children: React.ReactNode }) => (
  <span style={{ fontStyle: "italic" }}>{children}</span>
);

type PanelSpec = {
  values: number[];
  range: number[];
  ticks: number[];
  minor: number;
  decimals: number;
  title: React.ReactNode;
};

const panels: PanelSpec[] = [
  { values: nsVL, range: vLRange, ticks: vLTicks, minor: 50, decimals: 0,
    title: <><I>v</I><Sub><I>L</I></Sub> [km/s]</> },
  { values: nsML, range: mLRange, ticks: mLTicks, minor: 0.05, decimals: 1,
    title: <><I>M</I><Sub><I>L</I></Sub> [<I>M</I><Sub>⊙</Sub>]</> },
  { values: nsDS, range: dSRange, ticks: dSTicks, minor: 1, decimals: 0,
    title: <><I>D</I><Sub><I>S</I></Sub> [kpc]</> },
  { values: nsDL, range: dLRange, ticks: dLTicks, minor: 0.4, decimals: 0,
    title: <><I>D</I><Sub><I>L</I></Sub> [kpc]</> },
  { values: nsMuL, range: muLRange, ticks: muLTicks, minor: 4, decimals: 0,
    title: <><I>μ</I><Sub><I>L</I></Sub> [mas/yr]</> },
  { values: nsThetaMu, range: thetaMuRange, ticks: thetaMuTicks, minor: 5, decimals: 0,
    title: <><I>θ</I><Sub><I>E</I></Sub> · <I>μ</I><Sub><I>L</I></Sub> [mas<Sup>2</Sup>/yr]</> },
];

// frame, inward ticks, colour bar and (optionally) legend
function decorations(p: PanelSpec, showLegend: boolean) {
  return {
    id: "decorations",
    afterDraw(chart: any) {
      const { ctx, chartArea: a, scales } = chart;
      const xs = scales.x, ys = scales.y, cb = scales.cb;
      const line = (x1: number, y1: number, x2: number, y2: number, w: number) => {
        ctx.lineWidth = w;
        ctx.beginPath();
        ctx.moveTo(x1, y1);
        ctx.lineTo(x2, y2);
        ctx.stroke();
      };
      ctx.save();
      ctx.strokeStyle = "#000";
      ctx.lineCap = "butt";

      for (let k = 1; k <= 21; k++) {
        const v = k / 10;
        if (v < xLimits[0] || v > xLimits[1]) continue;
        const major = k % 5 === 0;
        const len = major ? 10 : 5;
        const px = xs.getPixelForValue(v);
        line(px, a.bottom, px, a.bottom - len, major ? 1.6 : 1.2);
        line(px, a.top, px, a.top + len, major ? 1.6 : 1.2);
      }
      for (let k = -10; k <= 5; k++) {
        const v = k / 10;
        const major = k % 5 === 0;
        const len = major ? 10 : 5;
        const py = ys.getPixelForValue(v);
        line(a.left, py, a.left + len, py, major ? 1.6 : 1.2);
        line(a.right, py, a.right - len, py, major ? 1.6 : 1.2);
      }
      ctx.lineWidth = 2;
      ctx.strokeRect(a.left, a.top, a.right - a.left, a.bottom - a.top);

      // colour bar
      const barTop = a.top - 25;
      const barH = 16;
      const g = ctx.createLinearGradient(a.left, 0, a.right, 0);
      VIRIDIS.forEach((c, i) => g.addColorStop(i / (VIRIDIS.length - 1), c));
      ctx.fillStyle = g;
      ctx.fillRect(a.left, barTop, a.right - a.left, barH);
      const [lo, hi] = p.range;
      for (let k = Math.ceil(lo / p.minor - 1e-9); k * p.minor <= hi + 1e-9; k++) {
        const v = k * p.minor;
        const major = p.ticks.some((t) => Math.abs(t - v) < p.minor * 0.01);
        const px = cb.getPixelForValue(v);
        line(px, barTop, px, barTop + (major ? 10 : 5), major ? 1.6 : 1.2);
      }
      ctx.lineWidth = 1.5;
      ctx.strokeRect(a.left, barTop, a.right - a.left, barH);

      if (showLegend) {
        ctx.fillStyle = GRAY;
        ctx.beginPath();
        ctx.arc(a.left + 32, a.top + 52, 2.5, 0, Math.PI * 2);
        ctx.fill();
        ctx.fillStyle = "#472f7d";
        ctx.beginPath();
        ctx.arc(a.left + 32, a.top + 84, 5.5, 0, Math.PI * 2);
        ctx.fill();
        ctx.fillStyle = "#000";
        ctx.font = `16.5px ${SERIF}`;
        ctx.textBaseline = "middle";
        ctx.textAlign = "left";
        ctx.fillText("Star,", a.left + 62, a.top + 40);
        ctx.fillText("WD, BH", a.left + 62, a.top + 60);
        ctx.fillText("NS", a.left + 62, a.top + 84);
      }
      ctx.restore();
    },
  };
}

function Panel({ p, col, row }: { p: PanelSpec; col: number; row: number }) {
  const ref = useRef<HTMLCanvasElement>(null);
  useEffect(() => {
    const L = COL_LEFT[col], R = COL_RIGHT[col], T = ROW_TOP[row], B = ROW_BOTTOM[row];
    const [lo, hi] = p.range;
    const tickFont = { family: SERIF, size: 16 };
    const yTickFont = { family: SERIF, size: 17 };
    const chart = new Chart(ref.current as HTMLCanvasElement, {
      type: "scatter",
      data: {
        datasets: [
          {
            label: "NS",
            data: nsLogTE.map((x, i) => ({ x, y: nsLogThetaE[i] })),
            backgroundColor: p.values.map((v) => viridis((v - lo) / (hi - lo))),
            pointRadius: 5.5,
            pointHoverRadius: 5.5,
            borderWidth: 0,
            xAxisID: "x",
            yAxisID: "y",
            clip: 0,
            order: 0,
          },
          {
            label: "Star, WD, BH",
            data: otherLenses.map(([x, y]) => ({ x, y })),
            backgroundColor: GRAY,
            pointRadius: 2.5,
            pointHoverRadius: 2.5,
            borderWidth: 0,
            xAxisID: "x",
            yAxisID: "y",
            clip: 0,
            order: 1,
          },
        ],
      },
      options: {
        responsive: false,
        animation: false,
        devicePixelRatio: 1,
        events: [],
        layout: {
          padding: { left: L - Y_AXIS_W, right: 1024 - R, top: T - CB_AXIS_H, bottom: 650 - B - X_AXIS_H },
        },
        plugins: { legend: { display: false }, tooltip: { enabled: false } },
        scales: {
          x: {
            type: "linear",
            position: "bottom",
            min: xLimits[0],
            max: xLimits[1],
            grid: { display: false, drawTicks: false },
            border: { display: false },
            ticks: { font: tickFont, color: "#000", padding: 4, maxRotation: 0, autoSkip: false,
              callback: (v: any) => fmt(v, 1) },
            afterBuildTicks: (s: any) => { s.ticks = xTickValues.map((value) => ({ value })); },
            afterFit: (s: any) => { s.height = X_AXIS_H; },
          },
          y: {
            type: "linear",
            position: "left",
            min: yLimits[0],
            max: yLimits[1],
            grid: { display: false, drawTicks: false },
            border: { display: false },
            ticks: { display: col === 0, font: yTickFont, color: "#000", padding: 7,
              callback: (v: any) => fmt(v, 1) },
            afterBuildTicks: (s: any) => { s.ticks = yTickValues.map((value) => ({ value })); },
            afterFit: (s: any) => { s.width = Y_AXIS_W; },
          },
          cb: {
            type: "linear",
            axis: "x",
            position: "top",
            min: lo,
            max: hi,
            grid: { display: false, drawTicks: false },
            border: { display: false },
            ticks: { font: tickFont, color: "#000", padding: 30, maxRotation: 0, autoSkip: false,
              callback: (v: any) => fmt(v, p.decimals) },
            afterBuildTicks: (s: any) => { s.ticks = p.ticks.map((value) => ({ value })); },
            afterFit: (s: any) => { s.height = CB_AXIS_H; },
          },
        },
      } as any,
      plugins: [decorations(p, col === 0 && row === 0)],
    });
    return () => chart.destroy();
  }, []);
  return (
    <canvas ref={ref} width={1024} height={650}
      style={{ position: "absolute", left: 0, top: 0, width: 1024, height: 650 }} />
  );
}

function Label({ x, y, size = TITLE_SIZE, rotate = false, children }:
  { x: number; y: number; size?: number; rotate?: boolean; children: React.ReactNode }) {
  return (
    <div style={{
      position: "absolute", left: x, top: y,
      transform: `translate(-50%, -50%)${rotate ? " rotate(-90deg)" : ""}`,
      fontFamily: SERIF, fontSize: size, lineHeight: 1, whiteSpace: "nowrap", color: "#000",
    }}>{children}</div>
  );
}

const xTitle = <>log<Sub>10</Sub>{"\u2009"}(<I>t</I><Sub><I>E</I></Sub> [days])</>;
const yTitle = <>log<Sub>10</Sub>{"\u2009"}(<I>θ</I><Sub><I>E</I></Sub> [mas])</>;

export default function App() {
  return (
    <div style={{ position: "fixed", left: 0, top: 0, width: 1024, height: 650, background: "#fff", overflow: "hidden" }}>
      {panels.map((p, i) => (
        <Panel key={i} p={p} col={i % 3} row={Math.floor(i / 3)} />
      ))}
      <div style={{
        position: "absolute", left: 525, top: 13, transform: "translate(-50%, -50%)",
        fontFamily: '"Liberation Serif"', fontSize: 17, whiteSpace: "nowrap", color: "#000", lineHeight: 1,
      }}>
        Z. Kaczmarek
        <span style={{
          display: "inline-block", width: 12, height: 12, borderRadius: "50%", background: "#a6ce39",
          color: "#fff", fontSize: 7, lineHeight: "12px", textAlign: "center", fontFamily: "Arial, sans-serif",
          fontWeight: 700, verticalAlign: "1px", margin: "0 3px 0 2px",
        }}>iD</span>
        et al.: Astrometric microlensing probes of the isolated neutron star population with <i>Roman</i>
      </div>
      {panels.map((p, i) => {
        const col = i % 3, row = Math.floor(i / 3);
        const cx = (COL_LEFT[col] + COL_RIGHT[col]) / 2;
        return (
          <React.Fragment key={"t" + i}>
            <Label x={cx} y={ROW_TOP[row] - 57}>{p.title}</Label>
            <Label x={cx} y={ROW_BOTTOM[row] + 30}>{xTitle}</Label>
          </React.Fragment>
        );
      })}
      {ROW_TOP.map((t, r) => (
        <Label key={"y" + r} x={19} y={(t + ROW_BOTTOM[r]) / 2} rotate>{yTitle}</Label>
      ))}
    </div>
  );
}
